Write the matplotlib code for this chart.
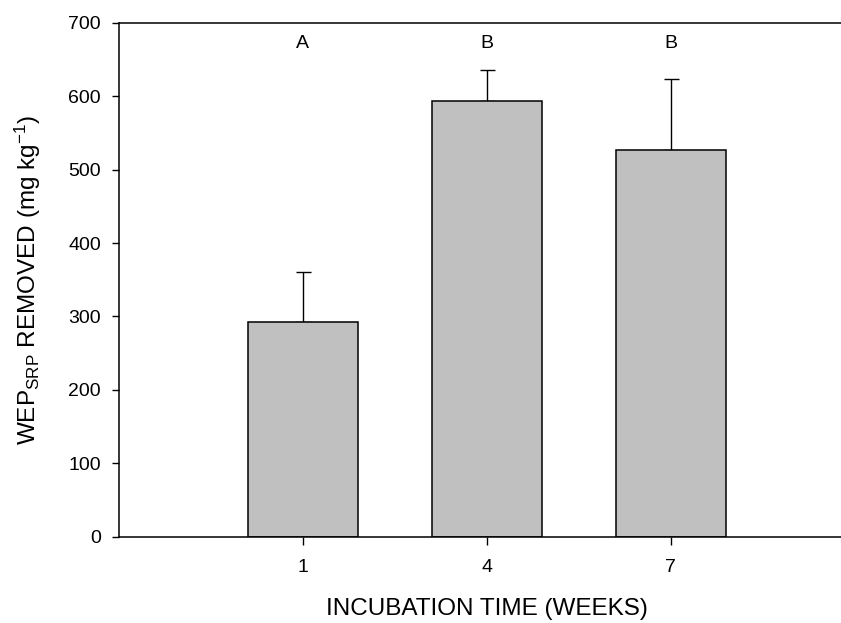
import numpy as np
import matplotlib
matplotlib.use("Agg")
import matplotlib.pyplot as plt

plt.rcParams['font.family'] = ['Liberation Sans', 'DejaVu Sans']
plt.rcParams['mathtext.fontset'] = 'custom'
plt.rcParams['mathtext.rm'] = 'Liberation Sans'
plt.rcParams['mathtext.it'] = 'Liberation Sans:italic'
plt.rcParams['mathtext.bf'] = 'Liberation Sans:bold'

# --- data
weeks = [1, 4, 7]
removed = [292, 593, 527]      # WEP_SRP removed, mg/kg
err_up = [68, 42, 96]          # upper error bar only
letters = ['A', 'B', 'B']

fig = plt.figure(figsize=(8.41, 6.23), dpi=100)
ax = fig.add_axes([0.1415, 0.1385, 0.8747, 0.825])

ax.bar(weeks, removed, width=1.8, color='#c0c0c0', edgecolor='black',
       linewidth=1.1, zorder=2)
# errorbar under the bars so the zero-length lower cap is hidden
ax.errorbar(weeks, removed, yerr=[np.zeros(len(weeks)), err_up], fmt='none',
            ecolor='black', elinewidth=1, capsize=5.4, capthick=1, zorder=1)

for w, l in zip(weeks, letters):
    ax.text(w, 672, l, ha='center', va='center', fontsize=14)

ax.set_xlim(-2, 10)
ax.set_ylim(0, 700)
ax.set_xticks(weeks)
ax.set_yticks(range(0, 701, 100))

ax.spines['right'].set_visible(False)
for s in ['left', 'bottom', 'top']:
    ax.spines[s].set_linewidth(1.1)

ax.tick_params(axis='both', direction='out', labelsize=14, width=1)
ax.tick_params(axis='x', length=6, pad=10)
ax.tick_params(axis='y', length=5, pad=8)

ax.set_xlabel('INCUBATION TIME (WEEKS)', fontsize=17.5, labelpad=16)
ax.set_ylabel(r'WEP$_{\mathrm{SRP}}$ REMOVED (mg kg$^{\mathrm{-1}}$)', fontsize=17.5)
ax.yaxis.set_label_coords(-0.103, 0.5)

fig.savefig('out.png', dpi=100)
